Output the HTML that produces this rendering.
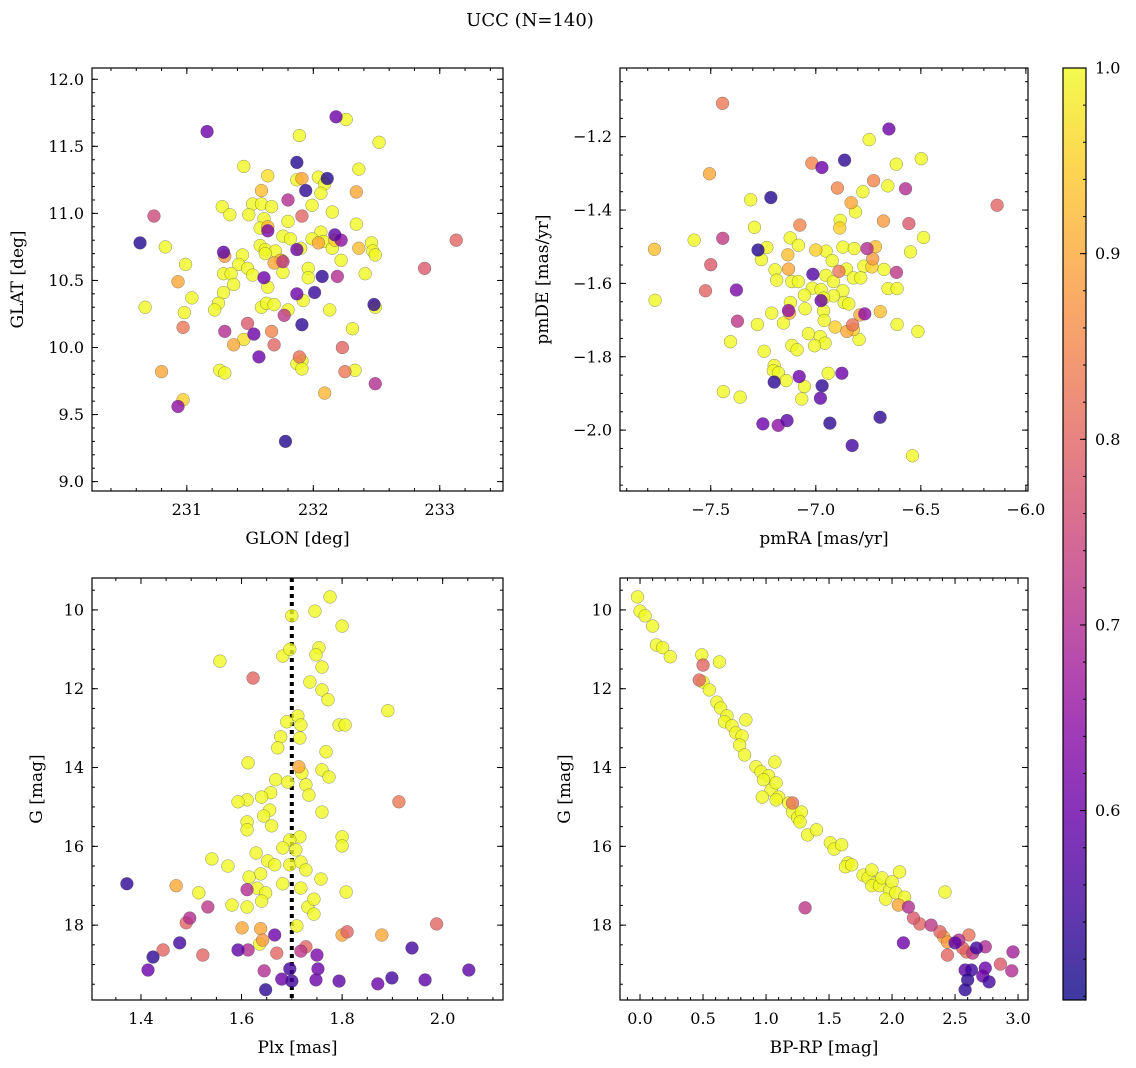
<!DOCTYPE html>
<html><head><meta charset="utf-8"><style>
html,body{margin:0;padding:0;background:#fff;overflow:hidden;width:1136px;height:1068px;}
svg{display:block;}
svg text{font-family:"DejaVu Serif","Liberation Serif",serif;fill:#000;}
</style></head><body>
<svg id="fig" width="1136" height="1068" viewBox="0 0 1136 1068" xmlns="http://www.w3.org/2000/svg">
<text x="530" y="26" font-size="18" text-anchor="middle">UCC (N=140)</text>
</svg>
<script>
// ---- Panel 1: GLON / GLAT ----
const glon=[232.18,232.26,231.16,231.89,232.52,231.87,231.45,232.36,231.64,232.11,231.91,231.87,232.04,232.09,231.94,231.59,232.06,232.34,231.80,231.28,231.52,231.59,231.67,231.99,231.34,231.49,232.15,231.91,230.74,231.61,231.80,231.58,231.64,231.64,232.34,231.76,231.82,232.06,232.17,232.22,231.99,232.08,232.17,233.13,230.63,230.83,231.58,231.62,231.70,231.87,231.90,232.04,232.15,232.36,232.46,232.47,232.49,231.29,231.30,231.44,231.62,231.69,231.74,231.76,231.75,232.22,230.99,231.41,231.48,231.96,231.29,231.35,231.52,231.76,232.41,232.88,230.93,231.61,231.96,232.07,232.19,231.37,231.64,231.29,231.87,232.01,231.92,231.04,231.25,230.67,230.98,231.22,231.59,231.63,231.69,231.77,231.80,232.13,232.48,232.49,231.91,230.97,231.30,231.48,231.53,231.67,232.31,231.37,231.45,231.69,232.23,231.57,231.89,231.91,231.87,231.91,230.80,231.26,231.30,232.25,232.33,232.49,232.09,230.93,230.97,231.78];
const glat=[11.72,11.70,11.61,11.58,11.53,11.38,11.35,11.33,11.28,11.26,11.26,11.25,11.27,11.22,11.17,11.17,11.15,11.16,11.10,11.05,11.07,11.07,11.05,11.06,10.99,10.99,11.01,10.98,10.98,10.96,10.94,10.89,10.90,10.87,10.92,10.83,10.81,10.86,10.84,10.80,10.81,10.79,10.80,10.80,10.78,10.75,10.76,10.73,10.72,10.73,10.74,10.78,10.74,10.74,10.78,10.72,10.69,10.71,10.68,10.69,10.70,10.63,10.65,10.64,10.65,10.65,10.62,10.62,10.59,10.59,10.55,10.55,10.54,10.56,10.55,10.59,10.49,10.52,10.52,10.53,10.53,10.47,10.45,10.41,10.40,10.41,10.35,10.37,10.33,10.30,10.26,10.28,10.30,10.33,10.32,10.24,10.28,10.28,10.32,10.30,10.17,10.15,10.12,10.18,10.10,10.12,10.14,10.02,10.06,10.02,10.00,9.93,9.93,9.90,9.88,9.84,9.82,9.83,9.81,9.82,9.83,9.73,9.66,9.56,9.61,9.30];
const prob1=[0.6,1,0.6,1,1,0.52,1,1,0.97,0.52,0.9,1,1,1,0.53,0.93,1,0.9,0.7,1,1,1,1,1,1,1,1,0.8,0.75,1,1,1,0.92,0.62,1,1,1,1,0.58,0.65,1,1,0.95,0.8,0.52,1,1,1,1,0.6,1,0.9,1,0.93,1,1,1,0.58,0.88,1,1,0.9,0.93,0.72,1,1,1,1,1,1,1,1,1,1,1,0.78,0.9,0.6,1,0.53,0.7,1,1,1,0.6,0.54,1,1,1,1,1,1,1,1,1,0.72,1,1,0.53,1,0.53,0.83,0.7,0.78,0.6,0.85,1,0.9,0.97,0.8,0.8,0.6,0.82,1,1,1,0.9,1,1,0.83,1,0.7,0.92,0.65,0.95,0.52];
// ---- Panel 2: pmRA / pmDE ----
const pmra=[-7.444,-6.652,-6.746,-6.863,-7.019,-6.971,-6.617,-6.498,-7.506,-6.725,-6.897,-6.657,-6.573,-6.776,-7.310,-7.214,-6.832,-6.811,-6.137,-6.884,-6.886,-7.076,-6.678,-6.557,-7.292,-6.487,-7.579,-7.443,-7.122,-7.768,-7.275,-7.233,-7.083,-7.000,-6.951,-6.871,-6.817,-6.756,-6.716,-6.549,-7.259,-7.133,-6.922,-6.729,-7.500,-7.194,-7.130,-7.014,-6.952,-6.890,-6.854,-6.771,-6.733,-6.675,-6.616,-7.186,-7.114,-7.083,-6.916,-6.821,-6.786,-7.525,-7.378,-7.017,-6.975,-6.871,-6.916,-6.656,-6.613,-7.765,-7.054,-6.975,-6.963,-7.121,-6.865,-6.843,-7.051,-6.963,-7.130,-7.125,-6.767,-6.790,-6.693,-7.210,-7.373,-7.278,-7.154,-6.960,-6.908,-6.825,-6.852,-6.821,-6.613,-6.514,-6.794,-7.406,-7.035,-6.979,-6.956,-7.006,-7.114,-7.089,-7.246,-7.198,-7.202,-7.178,-7.079,-6.876,-6.941,-7.141,-7.198,-6.970,-7.054,-7.440,-7.360,-7.067,-6.978,-7.252,-7.179,-7.137,-6.933,-6.694,-6.827,-6.540];
const pmde=[-1.109,-1.179,-1.208,-1.264,-1.272,-1.284,-1.275,-1.260,-1.301,-1.320,-1.340,-1.334,-1.342,-1.350,-1.372,-1.366,-1.380,-1.405,-1.387,-1.428,-1.449,-1.441,-1.430,-1.437,-1.447,-1.475,-1.482,-1.477,-1.476,-1.507,-1.509,-1.502,-1.496,-1.509,-1.512,-1.501,-1.505,-1.505,-1.500,-1.514,-1.535,-1.522,-1.538,-1.533,-1.549,-1.563,-1.561,-1.575,-1.578,-1.567,-1.561,-1.553,-1.555,-1.562,-1.570,-1.591,-1.595,-1.595,-1.595,-1.585,-1.585,-1.620,-1.618,-1.613,-1.617,-1.620,-1.634,-1.614,-1.614,-1.646,-1.632,-1.647,-1.640,-1.652,-1.652,-1.656,-1.669,-1.675,-1.674,-1.681,-1.683,-1.686,-1.677,-1.681,-1.703,-1.712,-1.708,-1.701,-1.719,-1.713,-1.731,-1.726,-1.712,-1.731,-1.753,-1.759,-1.737,-1.745,-1.763,-1.770,-1.769,-1.781,-1.785,-1.824,-1.838,-1.844,-1.854,-1.845,-1.845,-1.865,-1.869,-1.879,-1.881,-1.895,-1.910,-1.915,-1.913,-1.983,-1.987,-1.974,-1.981,-1.965,-2.042,-2.070];
const prob2=[0.83,0.6,1,0.53,0.85,0.6,1,1,0.9,0.85,0.85,1,0.7,1,1,0.52,0.9,1,0.8,1,0.95,0.85,0.88,0.78,1,1,1,0.73,1,0.93,0.52,1,1,0.95,1,1,1,0.7,0.93,1,1,0.93,1,0.88,0.78,1,0.9,0.57,1,0.83,1,1,0.95,1,0.72,1,1,1,1,1,1,0.8,0.62,1,1,1,1,1,1,1,1,0.6,1,1,1,1,1,1,0.65,0.92,0.65,0.9,0.93,1,0.72,1,1,1,0.95,0.82,0.9,0.95,1,1,1,1,1,1,1,1,1,1,1,1,1,1,0.6,0.6,1,1,0.53,0.53,1,1,1,1,0.58,0.6,0.65,0.58,0.53,0.53,0.55,1];
// ---- Panel 3: Plx / G ----
const plx=[1.776,1.70,1.746,1.80,1.557,1.682,1.696,1.754,1.748,1.76,1.623,1.736,1.76,1.772,1.891,1.712,1.718,1.794,1.806,1.690,1.678,1.716,1.672,1.768,1.613,1.714,1.72,1.76,1.774,1.668,1.692,1.728,1.658,1.734,1.64,1.611,1.593,1.913,1.656,1.76,1.644,1.611,1.66,1.611,1.80,1.716,1.696,1.80,1.682,1.708,1.629,1.541,1.652,1.666,1.696,1.718,1.573,1.728,1.638,1.615,1.758,1.682,1.631,1.372,1.47,1.718,1.611,1.648,1.515,1.808,1.64,1.732,1.744,1.581,1.611,1.533,1.497,1.744,1.49,1.71,1.638,1.601,1.988,1.81,1.80,1.879,1.666,1.642,1.636,1.477,1.593,1.613,1.728,1.718,1.444,1.523,1.939,1.424,1.670,1.75,1.414,1.645,1.752,1.696,2.052,1.748,1.794,1.899,1.965,1.871,1.68,1.648,1.70];
const gmag3=[9.67,10.15,10.03,10.41,11.3,11.17,11.0,10.96,11.14,11.45,11.73,11.83,12.03,12.28,12.56,12.69,12.92,12.92,12.92,12.84,13.22,13.25,13.50,13.60,13.88,13.98,14.14,14.06,14.24,14.31,14.37,14.44,14.64,14.70,14.75,14.82,14.87,14.87,15.08,15.13,15.23,15.38,15.48,15.58,15.76,15.76,15.84,15.99,16.04,16.09,16.17,16.32,16.37,16.47,16.47,16.40,16.50,16.60,16.70,16.78,16.83,16.95,17.06,16.95,17.0,17.06,17.1,17.18,17.18,17.16,17.39,17.54,17.34,17.49,17.54,17.54,17.82,17.72,17.94,18.02,18.09,18.07,17.97,18.17,18.25,18.25,18.25,18.38,18.48,18.45,18.63,18.63,18.55,18.66,18.63,18.76,18.58,18.81,18.71,18.76,19.14,19.16,19.11,19.11,19.14,19.39,19.42,19.34,19.39,19.49,19.37,19.64,19.42];
const prob3=[1,1,1,1,1,1,1,1,1,1,0.8,1,1,1,1,1,1,1,1,1,1,1,1,1,1,0.9,1,1,1,1,1,1,1,1,1,1,1,0.83,1,1,1,1,1,1,1,1,1,1,1,1,1,1,1,1,1,1,1,1,1,1,1,1,1,0.53,0.9,1,0.7,1,1,1,1,1,1,1,1,0.72,0.7,1,0.8,1,0.9,0.9,0.8,0.8,0.9,0.9,0.6,0.88,1,0.55,0.58,0.7,0.8,0.72,0.8,0.8,0.55,0.53,0.8,0.62,0.6,0.7,0.6,0.55,0.58,0.6,0.58,0.55,0.58,0.6,0.6,0.53,0.55];
// ---- Panel 4: BP-RP / G ----
const bprp=[-0.02,0.0,0.04,0.1,0.13,0.18,0.24,0.49,0.5,0.63,0.47,0.5,0.55,0.61,0.64,0.69,0.67,0.73,0.84,0.76,0.81,0.79,0.83,0.92,0.96,1.02,0.98,1.07,1.04,1.08,1.1,1.08,0.97,1.18,1.21,1.21,1.25,1.28,1.27,1.33,1.4,1.51,1.54,1.6,1.65,1.63,1.68,1.31,1.77,1.81,1.84,1.87,1.84,1.9,1.92,1.98,1.95,2.0,2.06,2.03,2.1,2.05,2.13,2.17,2.22,2.31,2.42,2.38,2.41,2.09,2.44,2.5,2.53,2.61,2.56,2.44,2.59,2.64,2.67,2.74,2.96,2.86,2.63,2.58,2.74,2.72,2.95,2.6,2.77,2.58];
const gmag4=[9.67,10.03,10.15,10.41,10.89,10.96,11.19,11.14,11.4,11.32,11.78,11.83,12.03,12.34,12.49,12.69,12.84,12.94,12.79,13.12,13.2,13.43,13.68,13.98,14.11,14.21,14.31,13.86,14.57,14.39,14.75,14.82,14.75,14.9,14.9,15.13,15.28,15.13,15.38,15.71,15.58,15.91,16.07,15.96,16.42,16.52,16.47,17.56,16.73,16.8,16.6,16.93,17.0,17.0,16.8,17.11,17.34,16.9,16.65,17.18,17.29,17.49,17.54,17.82,17.97,18.0,17.16,18.17,18.3,18.45,18.43,18.45,18.38,18.25,18.58,18.76,18.68,18.71,18.58,18.55,18.68,18.99,19.14,19.14,19.09,19.29,19.16,19.39,19.44,19.64];
const prob4=[1,1,1,1,1,1,1,1,0.8,1,0.8,1,1,1,1,1,1,1,1,1,1,1,1,1,1,1,1,1,1,1,1,1,1,1,0.82,1,1,1,1,1,1,1,1,1,1,1,1,0.72,1,1,1,1,1,1,1,1,1,1,1,1,1,0.9,0.7,0.78,0.8,0.72,1,0.8,0.9,0.6,0.88,0.58,0.7,0.82,0.8,0.8,0.82,0.72,0.55,0.7,0.68,0.78,0.55,0.58,0.6,0.6,0.7,0.53,0.55,0.53];
// ---- Tick labels ----
const p1xTicks=[231,232,233], p1yTicks=[9.0,9.5,10.0,10.5,11.0,11.5,12.0];
const p2xTicks=[-7.5,-7.0,-6.5,-6.0], p2yTicks=[-2.0,-1.8,-1.6,-1.4,-1.2];
const p3xTicks=[1.4,1.6,1.8,2.0], gTicks=[10,12,14,16,18];
const p4xTicks=[0.0,0.5,1.0,1.5,2.0,2.5,3.0], cbTicks=[0.6,0.7,0.8,0.9,1.0];
const plxRef=1.7;

const NS="http://www.w3.org/2000/svg";
const svg=document.getElementById('fig');
function mk(tag,attrs,parent){const e=document.createElementNS(NS,tag);for(const k in attrs)e.setAttribute(k,attrs[k]);(parent||svg).appendChild(e);return e;}
const stops=[[13,8,135],[65,4,157],[106,0,168],[143,13,164],[177,42,144],[204,71,120],[225,100,98],[242,132,75],[252,166,54],[252,206,37],[240,249,33]];
const VMIN=0.5,VMAX=1.0;
function plasma(v){let t=(v-VMIN)/(VMAX-VMIN);t=Math.max(0,Math.min(1,t))*10;const i=Math.min(9,Math.floor(t)),f=t-i;const a=stops[i],b=stops[i+1];return `rgb(${a.map((c,k)=>Math.round(c+(b[k]-c)*f)).join(',')})`;}
function fmt(v,d){const s=Math.abs(v).toFixed(d);return (v<0?'\u2212':'')+s;}

function panel(o){
  const g=mk('g',{});
  
  
  const sx=v=>o.L+(v-o.x0)/(o.x1-o.x0)*(o.R-o.L);
  const sy=o.inv ? (v=>o.T+(v-o.y0)/(o.y1-o.y0)*(o.B-o.T)) : (v=>o.T+(o.y1-v)/(o.y1-o.y0)*(o.B-o.T));
  const tg=mk('g',{stroke:'#000','stroke-width':1},g);
  const minor=(a,b,st)=>{const r=[];for(let v=Math.ceil(a/st-1e-6)*st;v<=b+1e-9;v+=st)r.push(v);return r;};
  minor(o.x0,o.x1,o.xm).forEach(v=>{const x=sx(v);mk('line',{x1:x,x2:x,y1:o.B,y2:o.B-3},tg);mk('line',{x1:x,x2:x,y1:o.T,y2:o.T+3},tg);});
  minor(o.y0,o.y1,o.ym).forEach(v=>{const y=sy(v);mk('line',{x1:o.L,x2:o.L+3,y1:y,y2:y},tg);mk('line',{x1:o.R,x2:o.R-3,y1:y,y2:y},tg);});
  o.xt.forEach(v=>{const x=sx(v);if(x<o.L-1||x>o.R+1)return;mk('line',{x1:x,x2:x,y1:o.B,y2:o.B-6},tg);mk('line',{x1:x,x2:x,y1:o.T,y2:o.T+6},tg);
    const t=mk('text',{x:x,y:o.B+24,'font-size':16,'text-anchor':'middle'},g);t.textContent=fmt(v,o.xd);
    
    });
  o.yt.forEach(v=>{const y=sy(v);mk('line',{x1:o.L,x2:o.L+6,y1:y,y2:y},tg);mk('line',{x1:o.R,x2:o.R-6,y1:y,y2:y},tg);
    const t=mk('text',{x:o.L-8,y:y+5.5,'font-size':16,'text-anchor':'end'},g);t.textContent=fmt(v,o.yd);
    
    });
  if(o.vline!==undefined){const x=sx(o.vline);const l=mk('line',{x1:x,x2:x,y1:o.T,y2:o.B,stroke:'#000','stroke-width':4,'stroke-dasharray':'4,4'},g);
    
    }
  const pg=mk('g',{},g);
  const idx=o.xs.map((_,i)=>i).sort((a,b)=>o.ps[b]-o.ps[a]);
  idx.forEach(i=>{const c=mk('circle',{cx:sx(o.xs[i]),cy:sy(o.ys[i]),r:6.4,fill:plasma(o.ps[i]),'fill-opacity':0.8,stroke:'#444','stroke-opacity':0.6,'stroke-width':0.5},pg);
    
    });
  const fr=mk('rect',{x:o.L,y:o.T,width:o.R-o.L,height:o.B-o.T,fill:'none',stroke:'#000','stroke-width':1.2},g);
  
  
  const xl=mk('text',{x:(o.L+o.R)/2,y:o.B+53,'font-size':17,'text-anchor':'middle'},g);xl.textContent=o.xl;
  
  
  const cy=(o.T+o.B)/2;
  const yl=mk('text',{x:o.ylx,y:cy,'font-size':17,'text-anchor':'middle',transform:`rotate(-90 ${o.ylx} ${cy})`},g);yl.textContent=o.yl;
  
  
}
panel({name:'panel-glon-glat',L:92,R:503,T:68,B:491,x0:230.25,x1:233.5,y0:8.93,y1:12.084,xm:0.2,ym:0.1,xt:p1xTicks,yt:p1yTicks,xd:0,yd:1,xs:glon,ys:glat,ps:prob1,xl:'GLON [deg]',yl:'GLAT [deg]',ylx:23});
panel({name:'panel-pmra-pmde',L:620,R:1028,T:68,B:491,x0:-7.932,x1:-5.99,y0:-2.166,y1:-1.0127,xm:0.1,ym:0.05,xt:p2xTicks,yt:p2yTicks,xd:1,yd:1,xs:pmra,ys:pmde,ps:prob2,xl:'pmRA [mas/yr]',yl:'pmDE [mas/yr]',ylx:548});
panel({name:'panel-plx-g',L:92,R:503,T:578,B:1000,x0:1.3026,x1:2.12,y0:9.19,y1:19.9,inv:true,xm:0.05,ym:0.5,xt:p3xTicks,yt:gTicks,xd:1,yd:0,xs:plx,ys:gmag3,ps:prob3,xl:'Plx [mas]',yl:'G [mag]',ylx:42,vline:plxRef});
panel({name:'panel-cmd',L:620,R:1028,T:578,B:1000,x0:-0.159,x1:3.079,y0:9.19,y1:19.9,inv:true,xm:0.1,ym:0.5,xt:p4xTicks,yt:gTicks,xd:1,yd:0,xs:bprp,ys:gmag4,ps:prob4,xl:'BP-RP [mag]',yl:'G [mag]',ylx:570});

// colorbar
(function(){
  const L=1063,R=1086,T=68,B=1000,CMIN=0.498,CMAX=1.0;
  const cy=v=>T+(CMAX-v)/(CMAX-CMIN)*(B-T);
  const g=mk('g',{});
  
  
  const defs=mk('defs',{},g);
  const lg=mk('linearGradient',{id:'cbg',x1:0,y1:1,x2:0,y2:0},defs);
  for(let k=0;k<=20;k++){const v=CMIN+(CMAX-CMIN)*k/20;mk('stop',{offset:k/20,'stop-color':plasma(v),'stop-opacity':0.8},lg);}
  mk('rect',{x:L,y:T,width:R-L,height:B-T,fill:'url(#cbg)',stroke:'#000','stroke-width':1.2},g);
  for(let v=0.5;v<=1.0001;v+=0.02){const y=cy(v);mk('line',{x1:R,x2:R-3,y1:y,y2:y,stroke:'#000'},g);}
  cbTicks.forEach(v=>{const y=cy(v);mk('line',{x1:R,x2:R-6,y1:y,y2:y,stroke:'#000'},g);
    const t=mk('text',{x:R+9,y:y+5.5,'font-size':16},g);t.textContent=v.toFixed(1);
    
    });
})();
</script>
</body></html>
